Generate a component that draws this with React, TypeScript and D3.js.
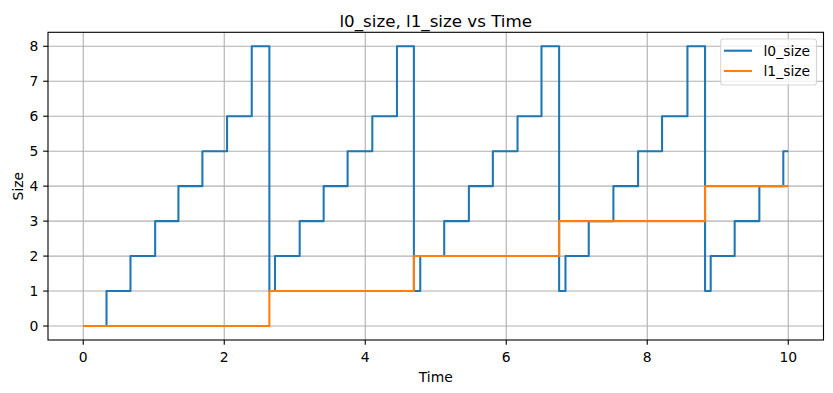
import React from "react";
import * as d3 from "d3";

const l0Times = [0, 0.33, 0.67, 1.02, 1.35, 1.69, 2.04, 2.39, 2.64, 2.72, 3.07, 3.41, 3.75, 4.10, 4.45, 4.69, 4.78, 5.12, 5.47, 5.81, 6.16, 6.50, 6.75, 6.84, 7.17, 7.52, 7.87, 8.21, 8.57, 8.82, 8.90, 9.24, 9.59, 9.93, 10.0];
const l0Values = [0, 1, 2, 3, 4, 5, 6, 8, 1, 2, 3, 4, 5, 6, 8, 1, 2, 3, 4, 5, 6, 8, 1, 2, 3, 4, 5, 6, 8, 1, 2, 3, 4, 5, 5];
const l1Times = [0, 2.64, 4.69, 6.75, 8.82, 10.0];
const l1Values = [0, 1, 2, 3, 4, 4];

const xTicks = [0, 2, 4, 6, 8, 10];
const yTicks = [0, 1, 2, 3, 4, 5, 6, 7, 8];
const seriesNames = ["l0_size", "l1_size"];
const seriesColors = ["#1f77b4", "#ff7f0e"];

const W = 833;
const H = 393;
const left = 48;
const right = 823.5;
const top = 32.3;
const bottom = 340;

export default function App() {
  const x = d3.scaleLinear().domain([-0.5, 10.5]).range([left, right]);
  const y = d3.scaleLinear().domain([-0.4, 8.4]).range([bottom, top]);
  const line = d3
    .line<[number, number]>()
    .x((d) => x(d[0]))
    .y((d) => y(d[1]))
    .curve(d3.curveStepAfter);
  const l0: [number, number][] = l0Times.map((t, i) => [t, l0Values[i]]);
  const l1: [number, number][] = l1Times.map((t, i) => [t, l1Values[i]]);
  const font = "'DejaVu Sans', sans-serif";
  const fs = 13.9;
  const legX = 720.7;
  const legY = 39;
  return (
    <svg
      width={W}
      height={H}
      style={{ position: "absolute", left: 0, top: 0, background: "#fff" }}
      fontFamily={font}
    >
      <rect x={0} y={0} width={W} height={H} fill="#fff" />
      {/* grid */}
      {xTicks.map((t) => (
        <line key={"gx" + t} x1={x(t)} x2={x(t)} y1={top} y2={bottom} stroke="#b0b0b0" strokeWidth={1.1} />
      ))}
      {yTicks.map((t) => (
        <line key={"gy" + t} x1={left} x2={right} y1={y(t)} y2={y(t)} stroke="#b0b0b0" strokeWidth={1.1} />
      ))}
      {/* lines */}
      <path d={line(l0) || ""} fill="none" stroke={seriesColors[0]} strokeWidth={2.08} strokeLinejoin="round" />
      <path d={line(l1) || ""} fill="none" stroke={seriesColors[1]} strokeWidth={2.08} strokeLinejoin="round" />
      {/* spines */}
      <rect x={left} y={top} width={right - left} height={bottom - top} fill="none" stroke="#000" strokeWidth={1.1} />
      {/* x ticks */}
      {xTicks.map((t) => (
        <g key={"xt" + t}>
          <line x1={x(t)} x2={x(t)} y1={bottom} y2={bottom + 4.86} stroke="#000" strokeWidth={1.1} />
          <text x={x(t)} y={361.5} textAnchor="middle" fontSize={fs} fill="#000">
            {t}
          </text>
        </g>
      ))}
      {/* y ticks */}
      {yTicks.map((t) => (
        <g key={"yt" + t}>
          <line x1={left - 4.86} x2={left} y1={y(t)} y2={y(t)} stroke="#000" strokeWidth={1.1} />
          <text x={left - 9.7} y={y(t) + 5} textAnchor="end" fontSize={fs} fill="#000">
            {t}
          </text>
        </g>
      ))}
      {/* axis labels */}
      <text x={(left + right) / 2} y={381.5} textAnchor="middle" fontSize={fs} fill="#000">
        Time
      </text>
      <text
        transform={`translate(23,${(top + bottom) / 2}) rotate(-90)`}
        textAnchor="middle"
        fontSize={fs}
        fill="#000"
      >
        Size
      </text>
      {/* title */}
      <text x={(left + right) / 2} y={26.5} textAnchor="middle" fontSize={16.7} fill="#000">
        l0_size, l1_size vs Time
      </text>
      {/* legend */}
      <rect
        x={legX}
        y={legY}
        width={816.5 - legX}
        height={85 - legY}
        rx={2.8}
        ry={2.8}
        fill="#fff"
        fillOpacity={0.8}
        stroke="#cccccc"
        strokeOpacity={0.8}
        strokeWidth={1.1}
      />
      {seriesNames.map((n, i) => {
        const ly = 50.7 + i * 20.3;
        return (
          <g key={n}>
            <line x1={724} x2={752} y1={ly} y2={ly} stroke={seriesColors[i]} strokeWidth={2.08} />
            <text x={763.5} y={ly + 5} fontSize={fs} fill="#000">
              {n}
            </text>
          </g>
        );
      })}
    </svg>
  );
}
